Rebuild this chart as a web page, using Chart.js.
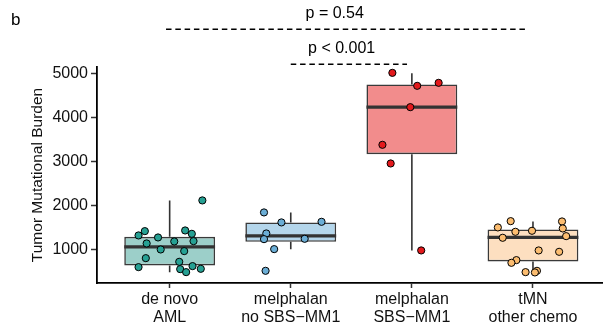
<!DOCTYPE html>
<html><head><meta charset="utf-8">
<script src="https://cdn.jsdelivr.net/npm/chart.js@4"></script>
<style>html,body{margin:0;padding:0;background:#fff}#wrap{width:607px;height:327px}</style>
</head><body><div id="wrap"><canvas id="c" width="607" height="327"></canvas></div>
<script>
// ---- data ----
const categories = [['de novo','AML'], ['melphalan','no SBS\u2212MM1'], ['melphalan','SBS\u2212MM1'], ['tMN','other chemo']];
const yTicks = [1000, 2000, 3000, 4000, 5000];
const boxQ1 = [630, 1166, 3159, 720];
const boxMedian = [1052, 1302, 4227, 1265];
const boxQ3 = [1280, 1607, 4743, 1447];
const whiskerLow = [477, 1000, 970, 470];
const whiskerHigh = [2107, 1834, 5000, 1630];

const denovoValues = [2107,1409,1311,1424,1348,1265,1129,1174,1182,992,955,795,712,591,614,553,545,477];
const denovoJitter = [0.27,-0.205,-0.257,0.128,0.183,-0.096,-0.19,0.038,0.197,-0.074,0.12,-0.197,0.079,-0.257,0.189,0.257,0.087,0.136];
const melNoValues = [1834,1607,1621,1356,1227,1235,1000,507];
const melNoJitter = [-0.221,-0.077,0.254,-0.202,-0.221,0.115,-0.137,-0.208];
const melSbsValues = [5007,4712,4780,4227,3371,2947,970];
const melSbsJitter = [-0.161,0.044,0.221,-0.013,-0.243,-0.175,0.077];
const tmnValues = [1636,1629,1493,1470,1394,1417,1258,1295,970,939,750,689,477,507,470];
const tmnJitter = [-0.184,0.24,-0.29,0.246,-0.145,-0.008,-0.25,0.274,0.047,0.216,-0.137,-0.178,-0.061,0.033,0.016];

const pLabels = ['p = 0.54', 'p < 0.001'];
const pFrom = [0.97, 2.0];
const pTo = [3.96, 2.96];
const pLevel = [6000, 5200];
const pLabelX = [2.363, 2.42];

// ---- styles ----
const pointColors = ['#26a093', '#6baed6', '#e3191c', '#fcbd70'];
const fillColors = ['#9ccfc9', '#b4d6eb', '#f28c8c', '#fddfc0'];
const FONT = '"Liberation Sans", Arial, Helvetica, sans-serif';
const boxHalf = 0.375;

const groups = [
  [denovoValues, denovoJitter],
  [melNoValues, melNoJitter],
  [melSbsValues, melSbsJitter],
  [tmnValues, tmnJitter]
];

const pointSets = groups.map((g, i) => ({
  type: 'scatter',
  data: g[0].map((v, k) => ({x: i + 1 + g[1][k], y: v})),
  backgroundColor: pointColors[i],
  borderColor: '#000',
  borderWidth: 1,
  pointRadius: 3.6,
  order: 0,
  clip: false
}));

const whiskerData = [];
const medianData = [];
categories.forEach((c, i) => {
  const xc = i + 1;
  whiskerData.push({x: xc, y: boxQ3[i]}, {x: xc, y: whiskerHigh[i]}, {x: xc, y: null});
  whiskerData.push({x: xc, y: boxQ1[i]}, {x: xc, y: whiskerLow[i]}, {x: xc, y: null});
  medianData.push({x: xc - boxHalf, y: boxMedian[i]}, {x: xc + boxHalf, y: boxMedian[i]}, {x: xc, y: null});
});

const annot = {
  id: 'annot',
  afterDatasetsDraw(chart) {
    const {ctx, scales: {x, y}} = chart;
    ctx.save();
    ctx.strokeStyle = '#000';
    ctx.lineWidth = 1.5;
    ctx.fillStyle = '#000';
    ctx.font = '16px ' + FONT;
    ctx.textAlign = 'center';
    ctx.textBaseline = 'middle';
    pLabels.forEach((lab, i) => {
      const yy = y.getPixelForValue(pLevel[i]);
      ctx.setLineDash([5.5, 3.8]);
      ctx.beginPath();
      ctx.moveTo(x.getPixelForValue(pFrom[i]), yy);
      ctx.lineTo(x.getPixelForValue(pTo[i]), yy);
      ctx.stroke();
      ctx.setLineDash([]);
      ctx.fillText(lab, x.getPixelForValue(pLabelX[i]), yy - 16);
    });
    ctx.textAlign = 'left';
    ctx.font = '17px ' + FONT;
    ctx.fillText('b', 11, 20);
    ctx.restore();
  }
};

new Chart(document.getElementById('c'), {
  type: 'scatter',
  data: {
    datasets: [
      ...pointSets,
      {
        type: 'line', data: medianData, borderColor: '#333', borderWidth: 3.2,
        pointRadius: 0, spanGaps: false, order: 1, clip: false, borderCapStyle: 'butt'
      },
      {
        type: 'bar',
        data: categories.map((c, i) => ({x: i + 1, y: [boxQ1[i], boxQ3[i]]})),
        backgroundColor: fillColors,
        borderColor: '#3a3a3a',
        borderWidth: 1.6,
        borderSkipped: false,
        categoryPercentage: 1,
        barPercentage: 0.75,
        order: 2,
        clip: false
      },
      {
        type: 'line', data: whiskerData, borderColor: '#333', borderWidth: 1.6,
        pointRadius: 0, spanGaps: false, order: 3, clip: false
      }
    ]
  },
  options: {
    responsive: false,
    animation: false,
    devicePixelRatio: 1,
    layout: {padding: {top: 67, right: 0, left: 0, bottom: 0}},
    plugins: {legend: {display: false}, tooltip: {enabled: false}},
    scales: {
      x: {
        type: 'linear', min: 0.4, max: 4.57, offset: false,
        afterBuildTicks: s => { s.ticks = [1, 2, 3, 4].map(v => ({value: v})); },
        afterFit: s => { s.height = 44; },
        ticks: {
          callback: (v, i) => categories[i],
          font: {family: FONT, size: 16, lineHeight: 1.15},
          color: '#111', padding: 2, maxRotation: 0, autoSkip: false
        },
        grid: {offset: false, drawOnChartArea: false, tickLength: 5, tickColor: '#333', tickWidth: 1.5},
        border: {color: '#000', width: 1.8}
      },
      y: {
        type: 'linear', min: 230, max: 5140,
        afterBuildTicks: s => { s.ticks = yTicks.map(v => ({value: v})); },
        afterFit: s => { s.width = 97; },
        ticks: {
          font: {family: FONT, size: 16},
          color: '#111', padding: 3,
          callback: v => String(v)
        },
        grid: {drawOnChartArea: false, tickLength: 6, tickColor: '#333', tickWidth: 1.5},
        border: {color: '#000', width: 1.8},
        title: {
          display: true, text: 'Tumor Mutational Burden',
          font: {family: FONT, size: 15.5}, color: '#111',
          padding: {top: 28, bottom: 0}
        }
      }
    }
  },
  plugins: [annot]
});
</script>
</body></html>
